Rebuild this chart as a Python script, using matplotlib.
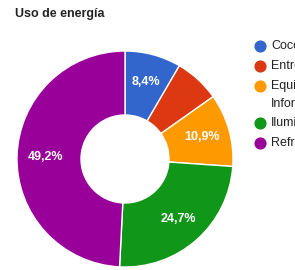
import matplotlib
matplotlib.use("Agg")
import matplotlib.pyplot as plt

plt.rcParams["font.family"] = ["Liberation Sans", "DejaVu Sans"]

title = "Uso de energía"
categories = ["Cocción", "Entretenimiento", "Equipos de\nInformática", "Iluminación", "Refrigeración"]
shares = [8.4, 6.8, 10.9, 24.7, 49.2]
colors = ["#3366cc", "#dc3912", "#ff9900", "#109618", "#990099"]


def pct_label(p):
    # small slices get no label, like the original
    if p < 8:
        return ""
    return f"{p:.1f}%".replace(".", ",")


W, H = 295, 270
fig = plt.figure(figsize=(W / 100, H / 100), dpi=100)
ax = fig.add_axes([0, 0, 1, 1])

outer, hole = 108, 44
wedges, texts, autotexts = ax.pie(
    shares,
    colors=colors,
    startangle=90,
    counterclock=False,
    center=(125, H - 159),
    radius=outer,
    autopct=pct_label,
    pctdistance=0.74,
    wedgeprops=dict(width=outer - hole, edgecolor="white", linewidth=1),
    textprops=dict(color="white", fontsize=9, fontweight="bold"),
    frame=True,
)

ax.set_xlim(0, W)
ax.set_ylim(0, H)
ax.set_aspect("equal")
ax.axis("off")

ax.text(15, H - 17.5, title, fontsize=9, fontweight="bold", color="#222222", va="baseline")

# legend drawn by hand; it runs off the right edge like the reference
y = H - 46
for cat, col in zip(categories, colors):
    ax.scatter([260], [y], s=60, color=col, zorder=3, clip_on=False)
    for i, line in enumerate(cat.split("\n")):
        ax.text(271, y - i * 18, line, fontsize=9, color="#222222", va="center")
    y -= 20 + 18 * cat.count("\n") - (1 if "\n" in cat else 0)

fig.savefig("out.png", dpi=100)
